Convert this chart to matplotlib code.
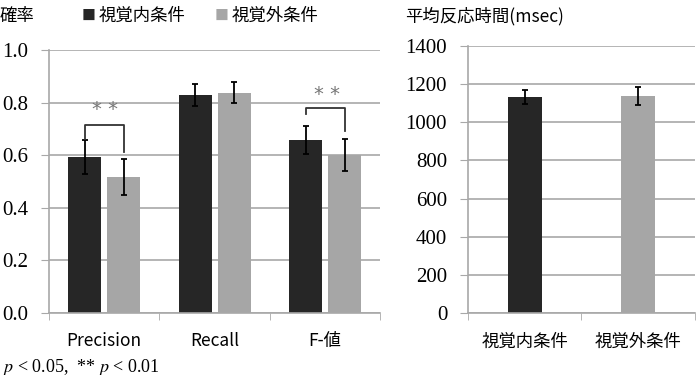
import matplotlib.pyplot as plt

# データ
metrics = ['Precision', 'Recall', 'F-値']
inside_vals = [0.593, 0.829, 0.658]
inside_err = [0.065, 0.043, 0.052]
outside_vals = [0.517, 0.837, 0.600]
outside_err = [0.068, 0.040, 0.060]

conditions = ['視覚内条件', '視覚外条件']
rt_vals = [1133, 1138]
rt_err = [37, 45]

DARK = '#262626'
LIGHT = '#a6a6a6'
GRID = '#a8a8a8'
JP = ['Noto Sans CJK JP', 'DejaVu Sans']
SERIF = ['Liberation Serif', 'DejaVu Serif']

plt.rcParams['font.family'] = SERIF

fig = plt.figure(figsize=(6.97, 3.75), dpi=100)


def style_axes(ax, ymax, step, fmt, xlim):
    ax.set_ylim(0, ymax)
    ax.set_xlim(*xlim)
    ticks = [i * step for i in range(int(round(ymax / step)) + 1)]
    ax.set_yticks(ticks)
    ax.set_yticklabels([fmt.format(t) for t in ticks])
    ax.yaxis.grid(True, color=GRID, lw=1.2)
    ax.set_axisbelow(True)
    for s in ['top', 'right']:
        ax.spines[s].set_visible(False)
    for s in ['left', 'bottom']:
        ax.spines[s].set_color(GRID)
        ax.spines[s].set_linewidth(1.2)
    ax.tick_params(axis='y', length=6, color=GRID, pad=9)
    ax.tick_params(axis='x', which='major', length=0, pad=14)
    ax.tick_params(axis='x', which='minor', length=5, color=GRID)


# 左：確率
ax1 = fig.add_axes([0.0703, 0.1653, 0.4756, 0.7013])
x = list(range(len(metrics)))
off, w = 0.175, 0.3
ax1.bar([i - off for i in x], inside_vals, w, color=DARK, zorder=2)
ax1.bar([i + off for i in x], outside_vals, w, color=LIGHT, zorder=2)
ax1.errorbar([i - off for i in x], inside_vals, yerr=inside_err, fmt='none',
             ecolor='black', elinewidth=1.3, capsize=2, capthick=1.3, zorder=3)
ax1.errorbar([i + off for i in x], outside_vals, yerr=outside_err, fmt='none',
             ecolor='black', elinewidth=1.3, capsize=2, capthick=1.3, zorder=3)
style_axes(ax1, 1.0, 0.2, '{:.1f}', (-0.5, 2.5))
ax1.set_xticks(x)
ax1.set_xticklabels(metrics, family=JP, fontsize=12.5)
ax1.set_xticks([-0.5, 0.5, 1.5, 2.5], minor=True)

# 有意差の括弧
ax1.plot([-off, -off, off, off], [0.66, 0.715, 0.715, 0.612], color='#333333', lw=1.3, zorder=4)
ax1.text(0.01, 0.775, '* *', ha='center', va='center', fontsize=14, color='#777777', family='DejaVu Sans')
ax1.plot([2 - off, 2 - off, 2 + off, 2 + off], [0.757, 0.779, 0.779, 0.692], color='#333333', lw=1.3, zorder=4)
ax1.text(2.016, 0.832, '* *', ha='center', va='center', fontsize=14, color='#777777', family='DejaVu Sans')

# 右：平均反応時間
ax2 = fig.add_axes([0.6714, 0.1653, 0.3257, 0.712])
xr = list(range(len(conditions)))
ax2.bar(xr, rt_vals, 0.3, color=[DARK, LIGHT], zorder=2)
ax2.errorbar(xr, rt_vals, yerr=rt_err, fmt='none', ecolor='black',
             elinewidth=1.3, capsize=2, capthick=1.3, zorder=3)
style_axes(ax2, 1400, 200, '{:.0f}', (-0.5, 1.5))
ax2.set_xticks(xr)
ax2.set_xticklabels(conditions, family=JP, fontsize=12.5)
ax2.set_xticks([-0.5, 0.5, 1.5], minor=True)

# 目盛りの数字は明朝系
for ax in (ax1, ax2):
    for lbl in ax.get_yticklabels():
        lbl.set_fontfamily(SERIF)
        lbl.set_fontsize(15)

# 見出し・凡例
fig.text(0.0, 1 - 16 / 375, '確率', family=JP, fontsize=12.5, va='center')
fig.text(82 / 697, 1 - 16 / 375, '■', color=DARK, family=JP, fontsize=10, va='center')
fig.text(99 / 697, 1 - 16 / 375, '視覚内条件', family=JP, fontsize=12.5, va='center')
fig.text(215 / 697, 1 - 16 / 375, '■', color=LIGHT, family=JP, fontsize=10, va='center')
fig.text(232 / 697, 1 - 16 / 375, '視覚外条件', family=JP, fontsize=12.5, va='center')
fig.text(405 / 697, 1 - 16 / 375, '平均反応時間(msec)', family=JP, fontsize=12.5, va='center')

# 注釈（下端で少し切れている）
fig.text(-10 / 697, 1 - 368 / 375, '* $p$ < 0.05,  ** $p$ < 0.01',
         fontsize=13, va='center', math_fontfamily='stix')

fig.savefig('out.png', dpi=100)
